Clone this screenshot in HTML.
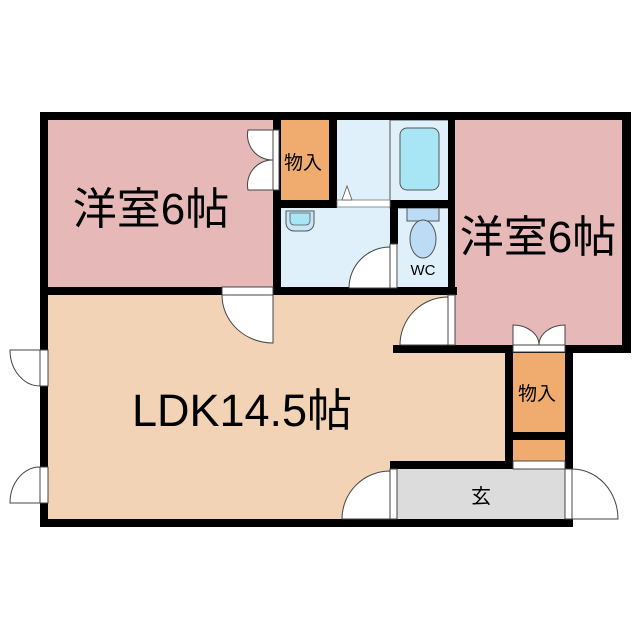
<!DOCTYPE html>
<html><head><meta charset="utf-8"><style>html,body{margin:0;padding:0;background:#fff}svg{display:block}</style></head>
<body>
<svg width="640" height="640" viewBox="0 0 640 640" xmlns="http://www.w3.org/2000/svg" font-family="'Liberation Sans','Noto Sans CJK JP',sans-serif">
<rect width="640" height="640" fill="#fff"/>
<!-- floors -->
<rect x="48" y="120" width="227" height="168" fill="#e6b8b8"/>
<rect x="455" y="120" width="168" height="228" fill="#e6b8b8"/>
<rect x="48" y="295" width="402" height="224" fill="#f2d3b6"/>
<rect x="448" y="352" width="58" height="167" fill="#f2d3b6"/>
<rect x="281" y="120" width="48" height="80" fill="#f0ac6e"/>
<rect x="513" y="352" width="53" height="80" fill="#f0ac6e"/>
<rect x="513" y="440" width="53" height="21" fill="#f0ac6e"/>
<rect x="337" y="120" width="112" height="88" fill="#dff0fb"/>
<rect x="281" y="207" width="110" height="81" fill="#dff0fb"/>
<rect x="398" y="207" width="51" height="81" fill="#dff0fb"/>
<rect x="397" y="469" width="168" height="50" fill="#dcdcdc"/>
<!-- bathtub -->
<rect x="390" y="120" width="59" height="88" fill="#dff0fb" stroke="#555" stroke-width="1"/>
<rect x="400" y="128" width="39" height="62" rx="7" fill="#a9e6f5" stroke="#555" stroke-width="1"/>
<!-- sink -->
<path d="M286 211 h28 v12 a8 8 0 0 1 -8 8 h-12 a8 8 0 0 1 -8 -8z" fill="#c8e6f5" stroke="#555"/>
<path d="M290 213 h20 v8 a4 4 0 0 1 -4 4 h-12 a4 4 0 0 1 -4 -4z" fill="#a9e6f5" stroke="#555" stroke-width=".8"/>
<!-- toilet -->
<rect x="407" y="208" width="32" height="13" fill="#bcdcf5" stroke="#555"/>
<ellipse cx="423" cy="239" rx="13" ry="19" fill="#bcdcf5" stroke="#555"/>
<text x="423" y="275" font-size="15" text-anchor="middle" fill="#000">WC</text>
<!-- walls -->
<g fill="#000">
<rect x="40" y="112" width="415" height="8"/>
<rect x="448" y="112" width="183" height="8"/>
<rect x="622" y="112" width="9" height="241"/>
<rect x="393" y="345" width="238" height="8"/>
<rect x="40" y="112" width="8" height="415"/>
<rect x="40" y="519" width="532" height="8"/>
<rect x="40" y="287" width="182" height="8"/>
<rect x="273" y="287" width="184" height="8"/>
<rect x="273" y="112" width="8" height="183"/>
<rect x="329" y="112" width="8" height="96"/>
<rect x="273" y="200" width="64" height="8"/>
<rect x="390" y="200" width="65" height="8"/>
<rect x="390" y="200" width="8" height="44"/>
<rect x="448" y="112" width="7" height="183"/>
<rect x="505" y="345" width="8" height="124"/>
<rect x="565" y="345" width="8" height="124"/>
<rect x="513" y="432" width="52" height="8"/>
<rect x="390" y="461" width="123" height="8"/>
<rect x="565" y="461" width="8" height="66"/>
</g>
<rect x="337" y="200" width="53" height="7" fill="#fff" stroke="#777" stroke-width=".8"/>
<path d="M342 200 l5 -14 l5 14z" fill="#fff" stroke="#555" stroke-width=".8"/>
<g fill="#fff" stroke="#444" stroke-width="1">
<rect x="273" y="130" width="6" height="60"/>
<path d="M273 130 h-25 a25 25 0 0 0 25 30z"/>
<path d="M273 190 h-25 a25 25 0 0 1 25 -30z"/>
<rect x="390" y="244" width="7" height="44"/>
<path d="M390 288 h-41 a41 41 0 0 1 41 -41z"/>
<rect x="222" y="287" width="51" height="8"/>
<path d="M273 295 v48 a51 48 0 0 1 -51 -48z"/>
<rect x="448" y="295" width="7" height="50"/>
<path d="M448 345 h-48 a48 48 0 0 1 48 -48z"/>
<rect x="513" y="345" width="52" height="7"/>
<path d="M513 345 v-20 a26 20 0 0 1 26 20z"/>
<path d="M565 345 v-20 a26 20 0 0 0 -26 20z"/>
<rect x="513" y="461" width="52" height="8"/>
<rect x="390" y="469" width="7" height="50"/>
<path d="M390 519 h-48 a48 48 0 0 1 48 -48z"/>
<rect x="565" y="469" width="7" height="50"/>
<path d="M572 519 h46 a46 50 0 0 0 -46 -50z"/>
<rect x="40" y="350" width="8" height="36"/>
<path d="M40 350 h-30 a30 36 0 0 0 30 36z"/>
<rect x="40" y="467" width="8" height="36"/>
<path d="M40 503 h-30 a30 36 0 0 1 30 -36z"/>
</g>
<g fill="#000">
<text x="151" y="224" font-size="44" text-anchor="middle">洋室6帖</text>
<text x="538" y="252" font-size="44" text-anchor="middle">洋室6帖</text>
<text x="242" y="426" font-size="45" text-anchor="middle">LDK14.5帖</text>
<text x="303" y="169" font-size="19" text-anchor="middle">物入</text>
<text x="537" y="400" font-size="19" text-anchor="middle">物入</text>
<text x="481" y="503" font-size="20" text-anchor="middle">玄</text>
</g>
</svg>
</body></html>
